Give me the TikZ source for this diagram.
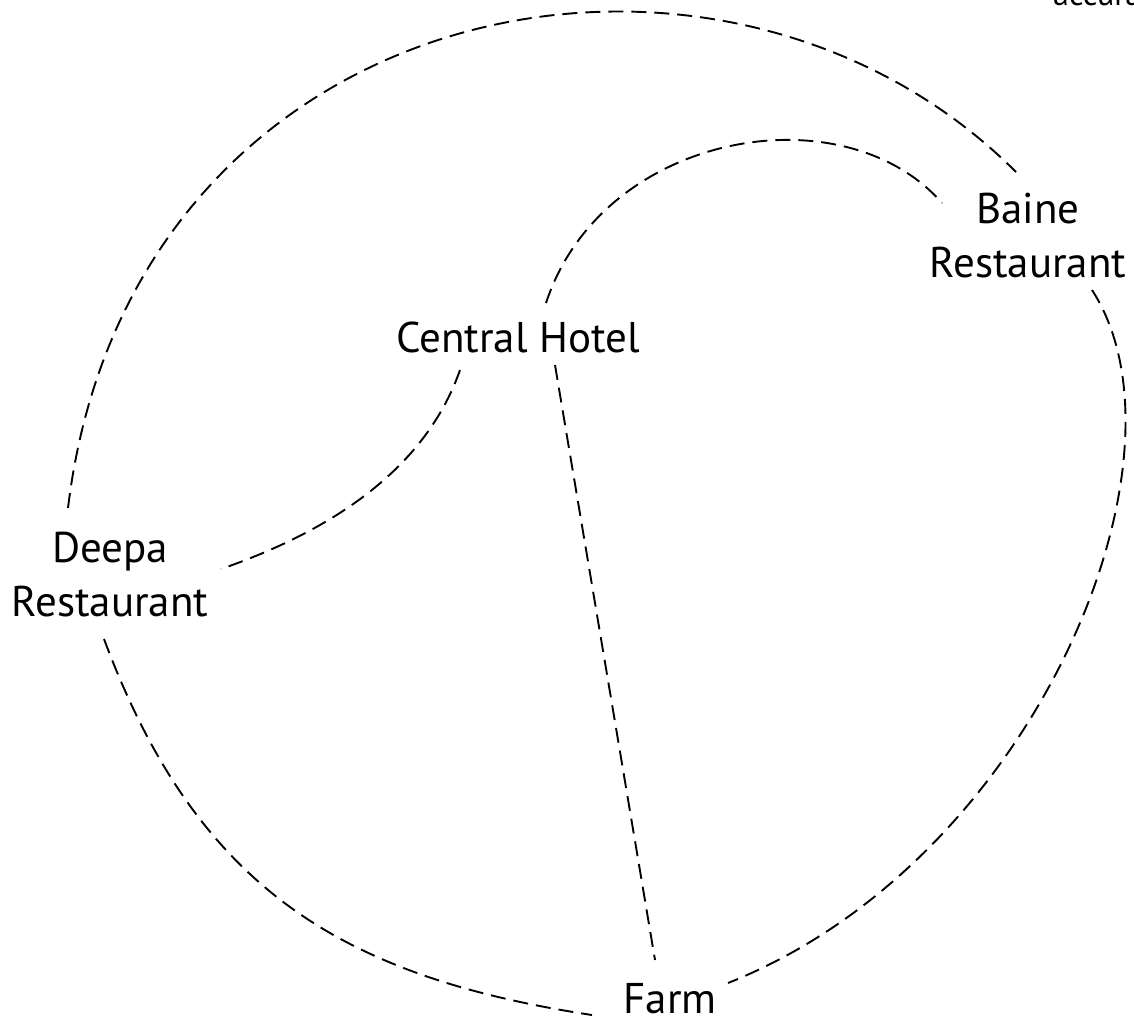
\documentclass[tikz,border=0pt]{standalone}
\usepackage{fontspec}
\setmainfont{PT Sans}
\usetikzlibrary{calc}
\begin{document}
\begin{tikzpicture}[x=1pt,y=-1pt,
  lbl/.style={inner sep=0pt, align=center, anchor=base,
    font=\fontsize{43}{53.5}\selectfont},
  edge/.style={draw=black, line width=1.9pt, dash pattern=on 15pt off 8pt}]
\fill[white] (0,0) rectangle (1134,1021);
\clip (0,0) rectangle (1134,1021);
\node[lbl] (central) at (518,352) {Central Hotel};
\node[lbl] (baine) at (1028,277) {Baine\\Restaurant};
\node[lbl] (deepa) at (110,616) {Deepa\\Restaurant};
\node[lbl] (farm) at (670,1013) {Farm};
\node[inner sep=0pt, anchor=base west, font=\fontsize{32}{38}\selectfont] (acc) at (1053,5) {accura};
% outer arcs
\draw[edge] ([shift={(-42,-108)}]deepa.base) .. controls +(62,-516) and +(-297,-297) .. ([shift={(-12,-105)}]baine.base);
\draw[edge] ([shift={(64,13)}]baine.base) .. controls +(109,168) and +(307,-122) .. ([shift={(58,-30)}]farm.base);
\draw[edge] ([shift={(-6,23)}]deepa.base) .. controls +(91,244) and +(-257,-39) .. ([shift={(-78,2)}]farm.base);
% inner connectors
\draw[edge] ([shift={(28,-49)}]central.base) .. controls +(56,-171) and +(-99,-113) .. ([shift={(-86,-74)}]baine.base);
\draw[edge] ([shift={(-58,18)}]central.base) .. controls +(-36,103) and +(104,-36) .. ([shift={(111,-47)}]deepa.base);
\draw[edge] ([shift={(37,13)}]central.base) -- ([shift={(-15,-53)}]farm.base);
\end{tikzpicture}
\end{document}
